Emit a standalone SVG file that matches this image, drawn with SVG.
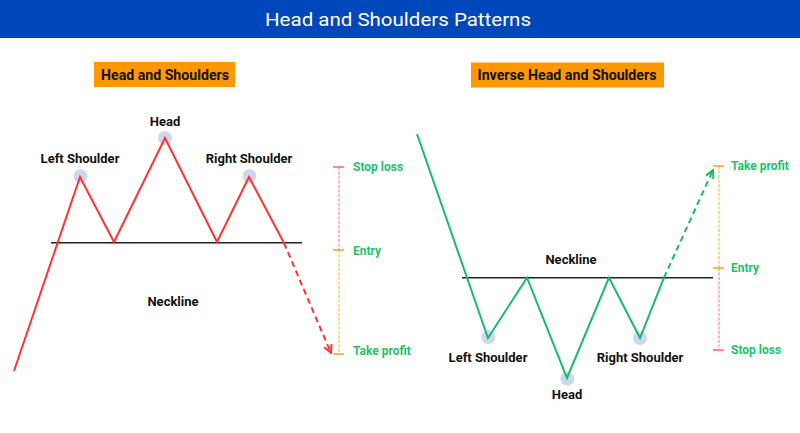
<svg xmlns="http://www.w3.org/2000/svg" width="800" height="433" viewBox="0 0 800 433">
<defs>
<style>
.title{font-family:Roboto,"Liberation Sans",sans-serif;font-size:19px;fill:#fff;text-anchor:middle;dominant-baseline:central}
.box{fill:#ff9800}
.boxt{font-family:Roboto,"Liberation Sans",sans-serif;font-size:15px;font-weight:bold;fill:#111;text-anchor:middle;dominant-baseline:central}
.lbl{font-family:Roboto,"Liberation Sans",sans-serif;font-size:13px;font-weight:bold;fill:#111;text-anchor:middle;dominant-baseline:central}
.lv{font-family:Roboto,"Liberation Sans",sans-serif;font-size:12px;font-weight:bold;fill:#1ec26a;dominant-baseline:central}
.dot{fill:#cdd8f0}
.neck{stroke:#222;stroke-width:1.5;fill:none}
.red{stroke:#ff3333;stroke-width:2;fill:none;stroke-linejoin:miter}
.grn{stroke:#19bb6a;stroke-width:2;fill:none}
.dash{stroke-dasharray:6 4}
.tickR{stroke:#ff6666;stroke-width:1.5}
.tickO{stroke:#ff9f1a;stroke-width:1.5}
.vR{stroke:#ff6f6f;stroke-width:1;stroke-dasharray:3 1.5}
.vO{stroke:#ffad33;stroke-width:1;stroke-dasharray:3 1.5}
</style>
<marker id="arR" viewBox="0 0 10 10" refX="9" refY="5" markerWidth="10" markerHeight="10" markerUnits="userSpaceOnUse" orient="auto">
<polyline points="1,1 9,5 1,9" fill="none" stroke="#ff3333" stroke-width="2"/>
</marker>
<marker id="arG" viewBox="0 0 10 10" refX="9" refY="5" markerWidth="10" markerHeight="10" markerUnits="userSpaceOnUse" orient="auto">
<polyline points="1,1 9,5 1,9" fill="none" stroke="#19bb6a" stroke-width="2"/>
</marker>
</defs>
<rect x="0" y="0" width="800" height="38" fill="#0047bb"/>
<text class="title" x="398" y="19" textLength="266" lengthAdjust="spacingAndGlyphs">Head and Shoulders Patterns</text>

<g id="left-title">
<rect class="box" x="94" y="62" width="141" height="25"/>
<text class="boxt" x="165" y="74.5" textLength="128" lengthAdjust="spacingAndGlyphs">Head and Shoulders</text>
</g>
<g id="right-title">
<rect class="box" x="471" y="62.5" width="193" height="25"/>
<text class="boxt" x="567" y="75" textLength="179" lengthAdjust="spacingAndGlyphs">Inverse Head and Shoulders</text>
</g>

<g id="left-shoulder">
<circle class="dot" cx="80.5" cy="176" r="7"/>
<text class="lbl" x="80" y="158">Left Shoulder</text>
</g>
<g id="head">
<circle class="dot" cx="165" cy="138" r="7"/>
<text class="lbl" x="165" y="121">Head</text>
</g>
<g id="right-shoulder">
<circle class="dot" cx="249.5" cy="176" r="7"/>
<text class="lbl" x="249" y="158">Right Shoulder</text>
</g>
<g id="neckline-label">
<text class="lbl" x="173" y="301">Neckline</text>
</g>
<g id="left-levels">
<text class="lv" x="353" y="167">Stop loss</text>
<text class="lv" x="353" y="251">Entry</text>
<text class="lv" x="353" y="351">Take profit</text>
</g>

<g id="inv-left-shoulder">
<circle class="dot" cx="488.3" cy="337" r="7"/>
<text class="lbl" x="488" y="357">Left Shoulder</text>
</g>
<g id="inv-head">
<circle class="dot" cx="567.3" cy="378.5" r="7"/>
<text class="lbl" x="567" y="394.5">Head</text>
</g>
<g id="inv-right-shoulder">
<circle class="dot" cx="640" cy="338" r="7"/>
<text class="lbl" x="640" y="357">Right Shoulder</text>
</g>
<g id="inv-neckline-label">
<text class="lbl" x="571" y="259.5">Neckline</text>
</g>
<g id="right-levels">
<text class="lv" x="731" y="166">Take profit</text>
<text class="lv" x="731" y="268">Entry</text>
<text class="lv" x="731" y="350">Stop loss</text>
</g>

<g id="connectors">
<line class="neck" x1="51" y1="242.7" x2="302" y2="242.7"/>
<polyline class="red" points="14,371 80,177 114,242 165,138 217,242 249,177 284,243"/>
<line class="red dash" x1="284" y1="243" x2="331" y2="353" marker-end="url(#arR)"/>
<line class="neck" x1="462" y1="277.7" x2="713" y2="277.7"/>
<polyline class="grn" points="417,134 488,338 527,277.7 567,378 609,277.7 640,338 664,277.7"/>
<line class="grn dash" x1="664" y1="277.7" x2="713" y2="170" marker-end="url(#arG)"/>
<line class="vR" x1="339" y1="167" x2="339" y2="250"/>
<line class="vO" x1="339" y1="250" x2="339" y2="354"/>
<line class="tickR" x1="333" y1="167" x2="344" y2="167"/>
<line class="tickO" x1="333" y1="250" x2="344" y2="250"/>
<line class="tickO" x1="333" y1="354" x2="344" y2="354"/>
<line class="vO" x1="719" y1="166" x2="719" y2="268"/>
<line class="vR" x1="719" y1="268" x2="719" y2="350"/>
<line class="tickO" x1="713" y1="166" x2="724" y2="166"/>
<line class="tickO" x1="713" y1="268" x2="724" y2="268"/>
<line class="tickR" x1="713" y1="350" x2="724" y2="350"/>
</g>
</svg>
